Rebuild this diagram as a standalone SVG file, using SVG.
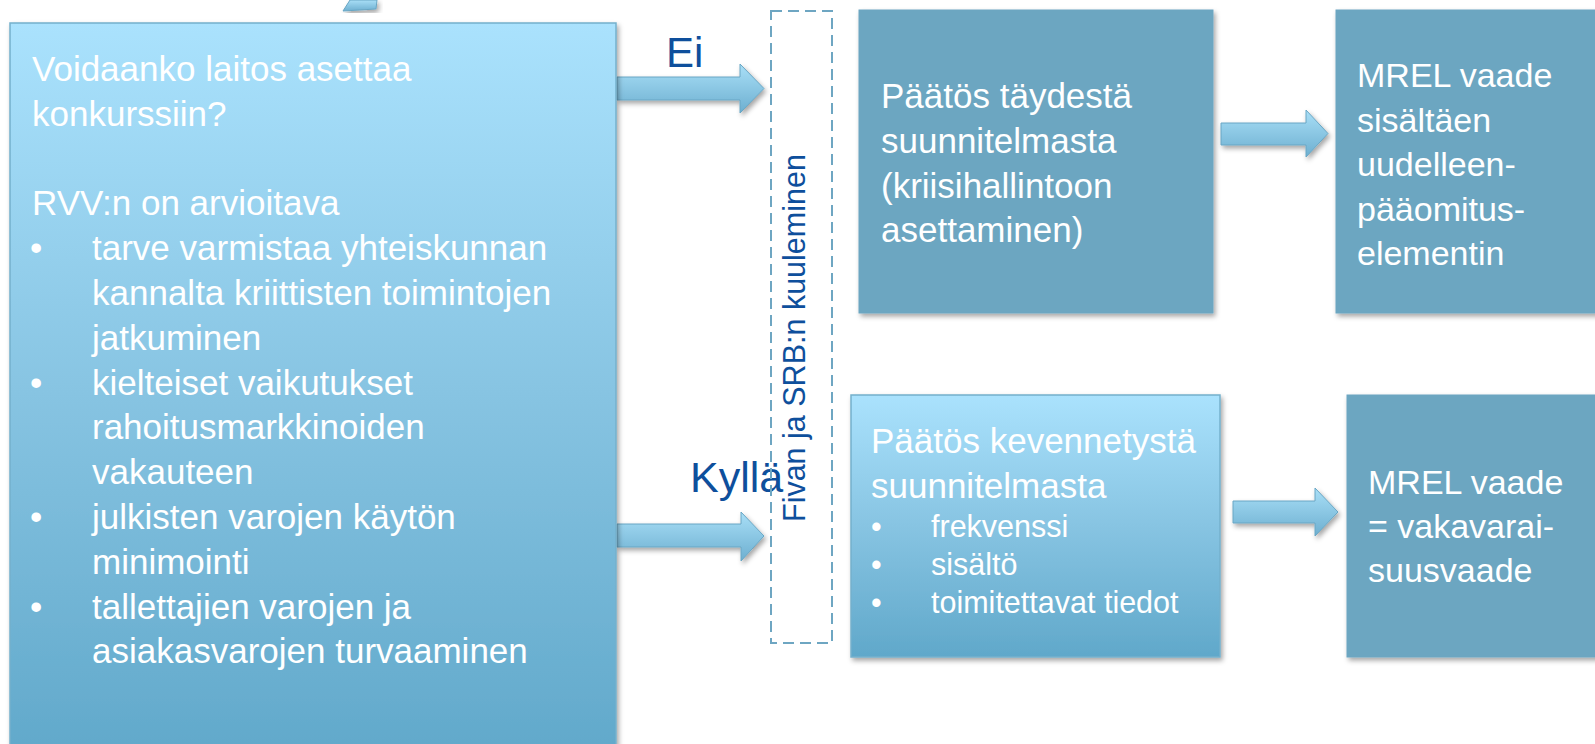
<svg xmlns="http://www.w3.org/2000/svg" width="1595" height="744" viewBox="0 0 1595 744">
<style>
  .w { fill: #ffffff; font-family: "Liberation Sans", Arial, sans-serif; }
  .t35 { font-size: 35px; }
  .t34 { font-size: 34px; }
  .t30 { font-size: 30.5px; }
  .lbl { fill: #0E4F9C; font-family: "Liberation Sans", Arial, sans-serif; }
  .solid { fill: #6CA6C1; stroke: #6CA6C1; stroke-width: 1; }
  .grad { fill: url(#boxGrad); stroke: #74B0CC; stroke-width: 1.5; }
  .arrow { fill: url(#arrowGrad); stroke: #68A6C4; stroke-width: 1; }
</style>
<defs>
  <linearGradient id="boxGrad" x1="0" y1="0" x2="0" y2="1">
    <stop offset="0" stop-color="#AAE2FD"/>
    <stop offset="0.5" stop-color="#87C4E2"/>
    <stop offset="1" stop-color="#60A8CA"/>
  </linearGradient>
  <linearGradient id="arrowGrad" x1="0" y1="0" x2="0" y2="1">
    <stop offset="0" stop-color="#A9DFF7"/>
    <stop offset="1" stop-color="#6DAFD0"/>
  </linearGradient>
  <filter id="shadow" x="-10%" y="-10%" width="125%" height="125%">
    <feDropShadow dx="2" dy="3" stdDeviation="2.5" flood-color="#000000" flood-opacity="0.35"/>
  </filter>
</defs>

<rect width="1595" height="744" fill="#ffffff"/>

<g id="connectors">
  <polygon class="arrow" filter="url(#shadow)" points="350,0 343,11 376,9 377,0"/>
  <polygon id="arrow-ei" class="arrow" filter="url(#shadow)" points="617,77 740,77 740,64 764,88.5 740,113 740,100 617,100"/>
  <polygon id="arrow-kylla" class="arrow" filter="url(#shadow)" points="617,524 741,524 741,512 764,536 741,561 741,547 617,547"/>
  <polygon id="arrow-top-right" class="arrow" filter="url(#shadow)" points="1221,123 1306,123 1306,110 1328,133.5 1306,157 1306,145 1221,145"/>
  <polygon id="arrow-bottom-right" class="arrow" filter="url(#shadow)" points="1233,501 1315,501 1315,488 1338,512 1315,536 1315,523 1233,523"/>
  <text class="lbl" x="666" y="67" font-size="42">Ei</text>
  <text class="lbl" x="690" y="492" font-size="43">Kyllä</text>
</g>

<g id="node-question">
  <rect class="grad" filter="url(#shadow)" x="10" y="23" width="606" height="740"/>
  <g class="w t35">
    <text x="32" y="81">Voidaanko laitos asettaa</text>
    <text x="32" y="125.8">konkurssiin?</text>
    <text x="32" y="215.4">RVV:n on arvioitava</text>
    <text x="30" y="260.2">•</text>
    <text x="92" y="260.2">tarve varmistaa yhteiskunnan</text>
    <text x="92" y="305">kannalta kriittisten toimintojen</text>
    <text x="92" y="349.8">jatkuminen</text>
    <text x="30" y="394.6">•</text>
    <text x="92" y="394.6">kielteiset vaikutukset</text>
    <text x="92" y="439.4">rahoitusmarkkinoiden</text>
    <text x="92" y="484.2">vakauteen</text>
    <text x="30" y="529">•</text>
    <text x="92" y="529">julkisten varojen käytön</text>
    <text x="92" y="573.8">minimointi</text>
    <text x="30" y="618.6">•</text>
    <text x="92" y="618.6">tallettajien varojen ja</text>
    <text x="92" y="663.4">asiakasvarojen turvaaminen</text>
  </g>
</g>

<g id="node-hearing">
  <rect x="771" y="11" width="61" height="632" fill="none" stroke="#6EA6C2" stroke-width="2" stroke-dasharray="11 6"/>
  <text class="lbl" font-size="30.5" transform="translate(805,522) rotate(-90)">Fivan ja SRB:n kuuleminen</text>
</g>

<g id="node-full-plan">
  <rect class="solid" filter="url(#shadow)" x="859" y="10" width="354" height="303"/>
  <g class="w t35">
    <text x="881" y="108">Päätös täydestä</text>
    <text x="881" y="153">suunnitelmasta</text>
    <text x="881" y="197.5">(kriisihallintoon</text>
    <text x="881" y="242">asettaminen)</text>
  </g>
</g>

<g id="node-mrel-full">
  <rect class="solid" filter="url(#shadow)" x="1336" y="10" width="270" height="303"/>
  <g class="w t34">
    <text x="1357" y="87">MREL vaade</text>
    <text x="1357" y="131.5">sisältäen</text>
    <text x="1357" y="176">uudelleen-</text>
    <text x="1357" y="220.5">pääomitus-</text>
    <text x="1357" y="265">elementin</text>
  </g>
</g>

<g id="node-light-plan">
  <rect class="grad" filter="url(#shadow)" x="851" y="395" width="369" height="262"/>
  <g class="w">
    <text class="t35" x="871" y="453">Päätös kevennetystä</text>
    <text class="t35" x="871" y="498">suunnitelmasta</text>
    <text class="t30" x="871" y="537">•</text>
    <text class="t30" x="931" y="537">frekvenssi</text>
    <text class="t30" x="871" y="575">•</text>
    <text class="t30" x="931" y="575">sisältö</text>
    <text class="t30" x="871" y="613">•</text>
    <text class="t30" x="931" y="613">toimitettavat tiedot</text>
  </g>
</g>

<g id="node-mrel-light">
  <rect class="solid" filter="url(#shadow)" x="1347" y="395" width="260" height="262"/>
  <g class="w t34">
    <text x="1368" y="494">MREL vaade</text>
    <text x="1368" y="538">= vakavarai-</text>
    <text x="1368" y="582">suusvaade</text>
  </g>
</g>
</svg>
